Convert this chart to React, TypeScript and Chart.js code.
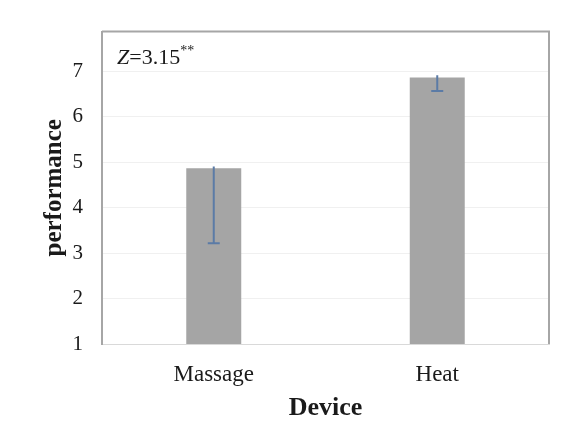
import React, { useEffect, useRef } from "react";
import { Chart, registerables } from "chart.js";

Chart.register(...registerables);

const categories = ["Massage", "Heat"];
const means = [4.87, 6.87];
const errUpper = [4.91, 6.92];
const errLower = [3.22, 6.57];
const yTicks = [1, 2, 3, 4, 5, 6, 7];
const statVar = "Z";
const statValue = "=3.15";
const statStars = "**";
const xTitle = "Device";
const yTitle = "performance";

const SERIF = "'Liberation Serif', 'Times New Roman', serif";

const frameAndExtras = {
  id: "frameAndExtras",
  afterDatasetsDraw(chart: any) {
    const ctx = chart.ctx;
    const ca = chart.chartArea;
    const ys = chart.scales.y;
    const meta = chart.getDatasetMeta(0);
    ctx.save();
    // error bars
    ctx.strokeStyle = "#5b7ba6";
    ctx.lineWidth = 2;
    meta.data.forEach((bar: any, i: number) => {
      const x = bar.x;
      const yTop = ys.getPixelForValue(errUpper[i]);
      const yBot = ys.getPixelForValue(errLower[i]);
      ctx.beginPath();
      ctx.moveTo(x, yTop);
      ctx.lineTo(x, yBot);
      ctx.moveTo(x - 6, yBot);
      ctx.lineTo(x + 6, yBot);
      ctx.stroke();
    });
    // frame top & right
    ctx.strokeStyle = "#a6a6a6";
    ctx.lineWidth = 2;
    ctx.beginPath();
    ctx.moveTo(ca.left, ca.top);
    ctx.lineTo(ca.right, ca.top);
    ctx.lineTo(ca.right, ca.bottom);
    ctx.stroke();
    // annotation
    ctx.fillStyle = "#1a1a1a";
    ctx.textBaseline = "alphabetic";
    ctx.textAlign = "left";
    let x = ca.left + 15;
    const yb = ca.top + 32;
    ctx.font = `italic 22px ${SERIF}`;
    ctx.fillText(statVar, x, yb);
    x += ctx.measureText(statVar).width;
    ctx.font = `22px ${SERIF}`;
    ctx.fillText(statValue, x, yb);
    x += ctx.measureText(statValue).width;
    ctx.font = `14px ${SERIF}`;
    ctx.fillText(statStars, x, yb - 9);
    ctx.restore();
  },
};

export default function App() {
  const ref = useRef<HTMLCanvasElement>(null);
  useEffect(() => {
    document.body.style.margin = "0";
    const chart = new Chart(ref.current as HTMLCanvasElement, {
      type: "bar",
      data: {
        labels: categories,
        datasets: [
          {
            data: means,
            backgroundColor: "#a5a5a5",
            borderWidth: 0,
            categoryPercentage: 1,
            barPercentage: 0.246,
          },
        ],
      },
      options: {
        animation: false,
        responsive: false,
        layout: { padding: { top: 29, right: 19, left: 0, bottom: 0 } },
        plugins: { legend: { display: false }, tooltip: { enabled: false } },
        scales: {
          x: {
            grid: { display: false, drawTicks: false },
            border: { color: "#d9d9d9", width: 1 },
            ticks: { font: { family: SERIF, size: 23 }, color: "#1a1a1a", padding: 17 },
            title: {
              display: true,
              text: xTitle,
              font: { family: SERIF, size: 26, weight: "bold" },
              color: "#1a1a1a",
              padding: { top: 0, bottom: 7 },
            },
            afterFit(scale: any) {
              scale.height = 87;
            },
          },
          y: {
            min: 1,
            max: 7.88,
            grid: { color: "#f0f0f0", drawTicks: false },
            border: { color: "#a6a6a6", width: 2 },
            afterBuildTicks(scale: any) {
              scale.ticks = yTicks.map((v) => ({ value: v }));
            },
            ticks: { font: { family: SERIF, size: 21 }, color: "#1a1a1a", padding: 19 },
            title: {
              display: true,
              text: yTitle,
              font: { family: SERIF, size: 25, weight: "bold" },
              color: "#1a1a1a",
              padding: { top: 40, bottom: 0 },
            },
            afterFit(scale: any) {
              scale.width = 102;
            },
          },
        },
      },
      plugins: [frameAndExtras],
    });
    return () => chart.destroy();
  }, []);
  return (
    <div style={{ position: "absolute", left: 0, top: 0, width: 568, height: 431, background: "#fff" }}>
      <canvas ref={ref} width={568} height={431} />
    </div>
  );
}
